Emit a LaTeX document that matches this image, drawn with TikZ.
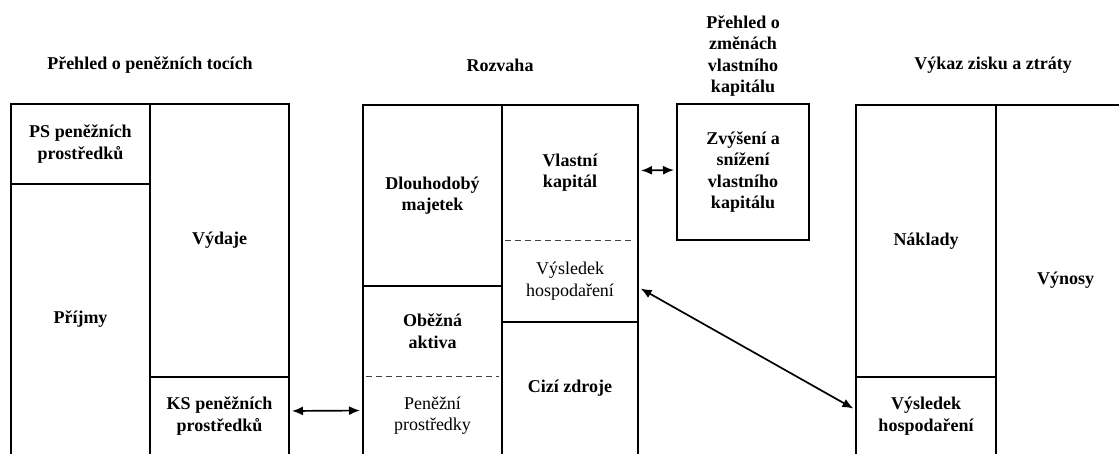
\documentclass[tikz,border=0pt]{standalone}
\usepackage{fontspec}
\setmainfont{Liberation Serif}
\usetikzlibrary{positioning, arrows.meta, calc}

\begin{document}
\begin{tikzpicture}[x=1pt, y=-1pt, line width=2pt,
    cell/.style={draw, anchor=north west, inner sep=0pt, outer sep=0pt, align=center,
        font=\fontsize{18}{21.6}\selectfont\bfseries},
    plaincell/.style={cell, font=\fontsize{18}{21.6}\selectfont},
    open/.style={draw=none},
    title/.style={align=center, font=\fontsize{18}{21.6}\selectfont\bfseries},
    sepline/.style={line width=1pt, black!75, dash pattern=on 6pt off 4pt, shorten <=3pt, shorten >=3pt},
    link/.style={{Latex[length=11pt, width=9pt]}-{Latex[length=11pt, width=9pt]}, line width=1.7pt}]

    % --- 画布 ---
    \clip (0,0) rectangle (1119,453);

    % --- 标题 ---
    \node[title] (tCash) at (150,65) {Přehled o peněžních tocích};
    \node[title] (tBal) at (500,65) {Rozvaha};
    \node[title] (tEq) at (743,56) {Přehled o\\změnách\\vlastního\\kapitálu};
    \node[title] (tPL) at (993,65) {Výkaz zisku a ztráty};

    % --- 现金流量表 ---
    \node[cell, minimum width=139pt, minimum height=80pt] (ps) at (11,104) {PS peněžních\\prostředků};
    \node[cell, minimum width=139pt, minimum height=271pt] (prijmy) at (11,184) {Příjmy};
    \node[cell, minimum width=139pt, minimum height=273pt] (vydaje) at (150,104) {Výdaje};
    \node[cell, minimum width=139pt, minimum height=78pt] (ks) at (150,377) {KS peněžních\\prostředků};

    % --- 资产负债表 ---
    \node[cell, minimum width=139pt, minimum height=181pt] (dm) at (363,105) {Dlouhodobý\\majetek};
    \node[cell, open, minimum width=139pt, minimum height=90pt] (oa) at (363,286) {Oběžná\\aktiva};
    \node[plaincell, open, minimum width=139pt, minimum height=79pt] (pp) at (363,376) {Peněžní\\prostředky};
    \draw (oa.north west) rectangle (pp.south east);
    \draw[sepline] (oa.south west) -- (oa.south east);

    \node[cell, open, minimum width=136pt, minimum height=135pt] (vk) at (502,105) {Vlastní\\kapitál};
    \node[plaincell, open, minimum width=136pt, minimum height=82pt] (vh) at (502,240) {Výsledek\\hospodaření};
    \draw (vk.north west) rectangle (vh.south east);
    \draw[sepline] (vk.south west) -- (vk.south east);
    \node[cell, minimum width=136pt, minimum height=133pt] (cz) at (502,322) {Cizí zdroje};

    % --- 所有者权益变动表 ---
    \node[cell, minimum width=132pt, minimum height=136pt] (zmeny) at (677,104) {Zvýšení a\\snížení\\vlastního\\kapitálu};

    % --- 利润表 ---
    \node[cell, minimum width=140pt, minimum height=272pt] (naklady) at (856,105) {Náklady};
    \node[cell, minimum width=140pt, minimum height=78pt] (vhpl) at (856,377) {Výsledek\\hospodaření};
    \node[cell, minimum width=139pt, minimum height=350pt] (vynosy) at (996,105) {Výnosy};

    % --- 联系 ---
    \draw[link, shorten <=3pt, shorten >=3pt] ([yshift=5pt]ks.east) -- ([yshift=5pt]pp.west);
    \draw[link, shorten <=3pt, shorten >=3pt] ([yshift=2pt]vk.east) -- ([yshift=2pt]zmeny.west);
    \draw[link, shorten <=3pt, shorten >=3pt] ([yshift=-6pt]vh.east) -- ([yshift=6pt]vhpl.west);

\end{tikzpicture}
\end{document}
